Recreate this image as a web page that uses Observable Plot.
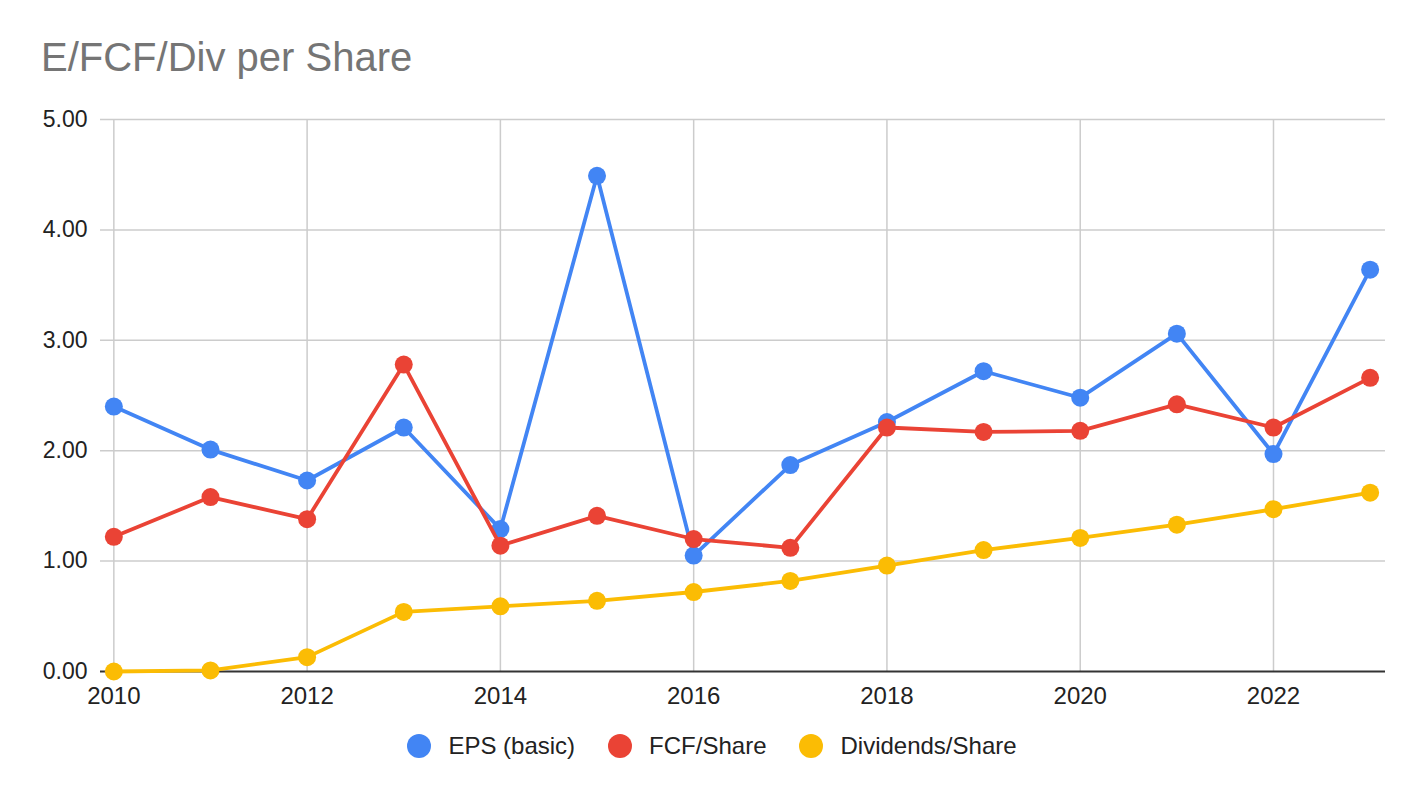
<!DOCTYPE html>
<html>
<head>
<meta charset="utf-8">
<script src="https://cdn.jsdelivr.net/npm/d3@7"></script>
<script src="https://cdn.jsdelivr.net/npm/@observablehq/plot@0.6"></script>
<style>
  body { margin: 0; background: #fff; }
  #wrap { position: relative; width: 1424px; height: 798px; font-family: "Liberation Sans", Arial, sans-serif; }
  #title { position: absolute; left: 41px; top: 37px; font-size: 40px; line-height: 40px; color: #757575; white-space: nowrap; }
  #chart { position: absolute; left: 0; top: 100px; }
  #legend { position: absolute; left: 0; top: 720px; width: 1424px; height: 51px; display: flex; justify-content: center; align-items: center; gap: 33px; }
  .item { display: flex; align-items: center; font-size: 24px; color: #222; white-space: nowrap; }
  .sw { width: 24px; height: 24px; border-radius: 50%; margin-right: 17px; }
</style>
</head>
<body>
<div id="wrap">
  <div id="title">E/FCF/Div per Share</div>
  <div id="chart"></div>
  <div id="legend"></div>
</div>
<script>
const years = [2010, 2011, 2012, 2013, 2014, 2015, 2016, 2017, 2018, 2019, 2020, 2021, 2022, 2023];
const eps = [2.40, 2.01, 1.73, 2.21, 1.29, 4.49, 1.05, 1.87, 2.26, 2.72, 2.48, 3.06, 1.97, 3.64];
const fcf = [1.22, 1.58, 1.38, 2.78, 1.14, 1.41, 1.20, 1.12, 2.21, 2.17, 2.18, 2.42, 2.21, 2.66];
const div = [0.00, 0.01, 0.13, 0.54, 0.59, 0.64, 0.72, 0.82, 0.96, 1.10, 1.21, 1.33, 1.47, 1.62];
const seriesNames = ["EPS (basic)", "FCF/Share", "Dividends/Share"];
const seriesColors = ["#4285F4", "#EA4335", "#FBBC04"];
const xTicks = [2010, 2012, 2014, 2016, 2018, 2020, 2022];
const yTicks = [0, 1, 2, 3, 4, 5];

const seriesValues = [eps, fcf, div];
const data = [];
seriesNames.forEach((name, i) => {
  years.forEach((yr, j) => data.push({series: name, year: yr, value: seriesValues[i][j]}));
});

const marks = [
  Plot.ruleY(yTicks.filter(d => d !== 0), {x1: 2009.862, x2: 2023.159, stroke: "#cccccc", strokeWidth: 1.5}),
  Plot.ruleX(xTicks, {y1: 0, y2: 5, stroke: "#cccccc", strokeWidth: 1.5}),
  Plot.ruleY([0], {x1: 2009.862, x2: 2023.159, stroke: "#333333", strokeWidth: 2}),
  Plot.axisY(yTicks, {tickSize: 0, tickPadding: 13, tickFormat: d3.format(".2f"), fontSize: 23, fill: "#222", label: null}),
  Plot.axisX(xTicks, {tickSize: 0, tickPadding: 15, tickFormat: d => String(d), fontSize: 24, fill: "#222", label: null})
];
seriesNames.forEach((name, i) => {
  const sd = data.filter(d => d.series === name);
  marks.push(Plot.line(sd, {x: "year", y: "value", stroke: seriesColors[i], strokeWidth: 3.8}));
  marks.push(Plot.dot(sd, {x: "year", y: "value", fill: seriesColors[i], r: 9}));
});

const chart = Plot.plot({
  width: 1424,
  height: 620,
  marginLeft: 100,
  marginRight: 39,
  marginTop: 19,
  marginBottom: 49,
  style: {fontFamily: "'Liberation Sans', Arial, sans-serif", background: "transparent", overflow: "visible"},
  x: {domain: [2009.862, 2023.159]},
  y: {domain: [0, 5]},
  marks
});
document.getElementById("chart").appendChild(chart);

const legend = document.getElementById("legend");
seriesNames.forEach((name, i) => {
  const item = document.createElement("div");
  item.className = "item";
  const sw = document.createElement("span");
  sw.className = "sw";
  sw.style.background = seriesColors[i];
  const t = document.createElement("span");
  t.textContent = name;
  item.appendChild(sw);
  item.appendChild(t);
  legend.appendChild(item);
});
</script>
</body>
</html>
